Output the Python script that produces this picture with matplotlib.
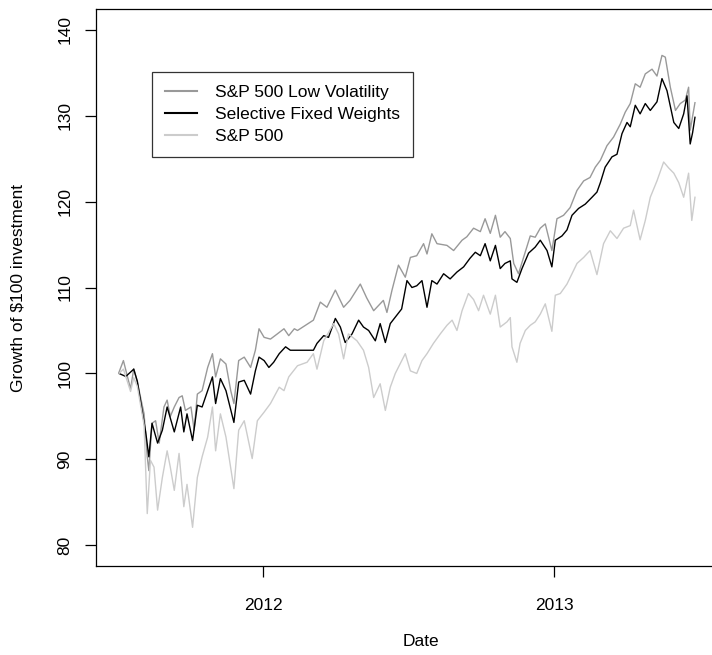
import matplotlib
matplotlib.use("Agg")
import matplotlib.pyplot as plt
import numpy as np
import pandas as pd

plt.rcParams['font.family'] = ['Liberation Sans', 'DejaVu Sans']

# Day offsets from 2012-01-01 and values (growth of $100)
lv_days = [-181.5, -176, -167, -163, -158.5, -150, -146, -144, -140, -135.5, -131, -125, -121, -117,
           -112, -106, -102, -98, -91, -87, -83, -77, -70, -64, -60, -54, -47, -41, -37, -31, -24,
           -16, -10, -5.4, 1, 9, 17.6, 26, 32, 39, 43,
           63, 71.7, 80, 90.6, 101, 109, 122, 130, 138.8, 151, 155.5, 161.9, 170, 178.6, 185, 193,
           201.6, 205.9, 212, 218.5, 231, 239.4, 250, 256,
           264.5, 273, 279, 285.5, 292, 298, 304, 310.7, 315, 321, 327.4, 335.8, 342, 348.4, 354.7,
           363, 369.4, 377.7, 386, 394.6, 403, 411, 417.6, 424, 432.3, 440.6, 449, 455.3, 461.6,
           467.9, 474, 480.5, 489, 495.2, 501.5, 505.7, 512, 518.5, 524.5, 530.8, 535, 537, 543]
lv_vals = [100.15, 101.5, 98.2, 100.55, 99.0, 95.3, 90.3, 88.7, 94.2, 94.5, 91.9, 96.1, 96.9, 95.0,
           96.1, 97.2, 97.4, 95.7, 96.1, 93.4, 97.6, 98.0, 100.7, 102.3, 99.6, 101.7, 101.1, 98.0, 96.5,
           101.5, 101.9, 100.7, 102.7, 105.2, 104.2, 104.0, 104.6, 105.2, 104.4, 105.2, 105.0,
           106.2, 108.3, 107.7, 109.7, 107.7, 108.5, 110.4, 108.8, 107.3, 108.5, 107.1, 109.7, 112.6,
           111.2, 113.5, 113.7, 115.1, 113.9, 116.25, 115.1, 114.9, 114.3, 115.5, 115.9,
           116.9, 116.5, 118.0, 116.3, 118.4, 115.85, 116.5, 115.7, 112.8, 111.6, 113.5, 116.0, 115.85,
           116.9, 117.4, 114.3, 118.0, 118.4, 119.3, 121.3, 122.4, 122.8, 124.0, 124.8, 126.5, 127.5,
           129.0, 130.4, 131.4, 133.7, 133.3, 134.85, 135.4, 134.6, 137.0, 136.8, 133.3, 130.6, 131.4,
           131.8, 133.3, 128.3, 131.5]

sfw_days = [-181.5, -173, -163, -158.5, -148, -144, -140, -133, -127, -121, -112, -104, -100, -96,
            -89, -83, -77, -70, -64, -60, -54, -47, -37, -31, -24, -16, -10, -5.4, 1, 7, 13, 20, 28,
            34, 46.5, 63, 67.5, 76, 82, 90.6, 96.9, 103, 111.6, 119.9, 126, 132.5, 140.9, 147, 153.5,
            159.7, 166, 174, 180.7, 187, 193, 199.6, 205.9, 212, 218.5, 226.8, 235, 243.6, 252, 260,
            266.7, 273, 279, 285.5, 292, 298, 304, 310.7, 312.8, 319, 325.4, 333.7, 342, 348.4, 356.9,
            363, 367.3, 375.7, 382, 388.3, 396.6, 405, 413.5, 419.7, 424, 430, 438.6, 444.9, 451.2,
            457.5, 461.6, 467.9, 474, 480.5, 486.8, 495.2, 501.5, 507.8, 516.4, 522.6, 528.8, 533,
            537, 540, 543]
sfw_vals = [100.0, 99.65, 100.5, 99.1, 93.2, 90.3, 94.2, 91.9, 93.4, 96.1, 93.2, 96.1, 93.2, 95.3,
            92.2, 96.3, 96.1, 98.0, 99.6, 96.5, 99.4, 98.0, 94.3, 99.0, 99.2, 97.6, 100.3, 101.9,
            101.5, 100.7, 101.3, 102.3, 103.1, 102.7, 102.7, 102.7, 103.5, 104.4, 104.2, 106.4, 105.4,
            103.6, 104.6, 106.2, 105.4, 105.0, 103.8, 105.8, 103.6, 105.8, 106.55, 107.5, 110.8,
            110.0, 110.2, 110.8, 107.7, 110.8, 110.4, 111.6, 111.0, 111.8, 112.4, 113.4,
            114.1, 113.7, 115.1, 113.1, 114.9, 112.2, 112.8, 113.1, 111.0, 110.6, 112.2, 114.0, 114.7,
            115.5, 114.3, 112.4, 115.5, 116.0, 116.7, 118.4, 119.2, 119.7, 120.5, 121.1, 122.2, 124.0,
            125.2, 125.5, 127.9, 129.2, 128.7, 131.2, 130.2, 131.4, 130.6, 131.6, 134.3, 132.9, 129.2,
            128.5, 130.2, 132.3, 126.7, 128.0, 129.8]

sp_days = [-181.5, -176, -167, -163, -158.5, -150, -146, -142, -137.5, -133, -127, -121, -117, -112,
           -106, -100, -96, -89, -83, -77, -70, -64, -60, -54, -47, -37, -31, -24, -14, -7.5, 1, 9,
           20, 26, 32, 43, 55, 63, 67.5, 76, 88.5, 94.7, 101, 107, 117.8, 126, 132.5, 138.8, 147,
           153.5, 159.7, 166, 172, 178.6, 185, 193, 199.6, 205.9, 214, 222.6, 231, 237.5, 243.6, 250,
           258, 264.5, 270.8, 277, 285.5, 292, 298, 306.5, 310.7, 312.8, 319, 323, 329.6, 335.8, 342,
           348.4, 354.7, 363, 367.3, 373.6, 382, 388.3, 394.6, 403, 411, 419.7, 428, 436.5, 444.9,
           453.2, 461.6, 465.8, 474, 480.5, 486.8, 495.2, 503.6, 510, 516.4, 522.6, 528.8, 535, 539,
           543]
sp_vals = [100.0, 100.5, 97.9, 99.5, 98.5, 94.0, 83.7, 89.9, 89.1, 84.1, 87.9, 91.0, 89.1, 86.4,
           90.7, 84.5, 87.1, 82.1, 87.9, 90.3, 92.6, 96.1, 91.0, 95.3, 92.6, 86.6, 93.4, 94.5, 90.1,
           94.5, 95.5, 96.5, 98.4, 98.0, 99.6, 100.9, 101.3, 102.3, 100.5, 103.8, 105.8, 104.6, 101.7,
           104.6, 103.8, 102.7, 100.7, 97.2, 98.8, 95.7, 98.4, 100.0, 101.1, 102.3, 100.3, 100.0,
           101.5, 102.3, 103.5, 104.6, 105.6, 106.2, 105.0, 107.3, 109.3, 108.6, 107.3, 109.1, 106.9,
           109.1, 105.4, 106.0, 106.5, 103.1, 101.3, 103.5, 105.0, 105.6, 106.0, 106.9, 108.1, 104.9,
           109.1, 109.3, 110.4, 111.6, 112.8, 113.5, 114.3, 111.5, 115.1, 116.6, 115.7, 116.9, 117.2,
           119.0, 115.55, 117.8, 120.5, 122.4, 124.6, 123.9, 123.3, 122.2, 120.5, 123.3, 117.8, 120.5]

series_names = ["S&P 500 Low Volatility", "Selective Fixed Weights", "S&P 500"]
y_ticks = [80, 90, 100, 110, 120, 130, 140]
x_tick_labels = ["2012", "2013"]

base = pd.Timestamp("2012-01-01")
def to_dates(d):
    return base + pd.to_timedelta(np.array(d, dtype=float), unit="D")

W, H = 712, 655
FS = 12.5
fig = plt.figure(figsize=(W / 100, H / 100), dpi=100)
ax = fig.add_axes([96 / W, (H - 566) / H, 622 / W, 557 / H])

ax.plot(to_dates(lv_days), lv_vals, color="#999999", lw=1.0, label=series_names[0])
ax.plot(to_dates(sfw_days), sfw_vals, color="black", lw=1.0, label=series_names[1])
ax.plot(to_dates(sp_days), sp_vals, color="#cccccc", lw=1.0, label=series_names[2])

d0, d1 = min(lv_days), max(lv_days)
pad = 0.04 * (d1 - d0)
ax.set_xlim(to_dates([d0 - pad])[0], to_dates([d1 + pad])[0])
ax.set_ylim(80 - 2.4, 140 + 2.4)

ax.set_yticks(y_ticks)
ax.set_yticklabels([str(v) for v in y_ticks], rotation=90, va="center")
ax.set_xticks([pd.Timestamp(f"{y}-01-01") for y in x_tick_labels])
ax.set_xticklabels(x_tick_labels)
ax.tick_params(axis="both", direction="out", length=8, width=0.9, labelsize=FS, color="black")
ax.tick_params(axis="y", pad=9)
ax.tick_params(axis="x", pad=15)
for s in ax.spines.values():
    s.set_linewidth(0.9)
    s.set_color("black")

fig.text(421 / W, 1 - 641 / H, "Date", ha="center", va="center", fontsize=FS)
fig.text(18 / W, 1 - 288 / H, "Growth of $100 investment", ha="center", va="center",
         rotation=90, fontsize=FS)

leg = ax.legend(loc="upper left", bbox_to_anchor=(152 / W, 1 - 72 / H),
                bbox_transform=fig.transFigure, fontsize=FS, frameon=True, fancybox=False,
                handlelength=1.85, handletextpad=1.05, borderpad=0.75, labelspacing=0.38,
                borderaxespad=0)
leg.get_frame().set_edgecolor("black")
leg.get_frame().set_linewidth(0.9)
for ln in leg.get_lines():
    ln.set_linewidth(1.5)

fig.savefig("out.png", dpi=100)
